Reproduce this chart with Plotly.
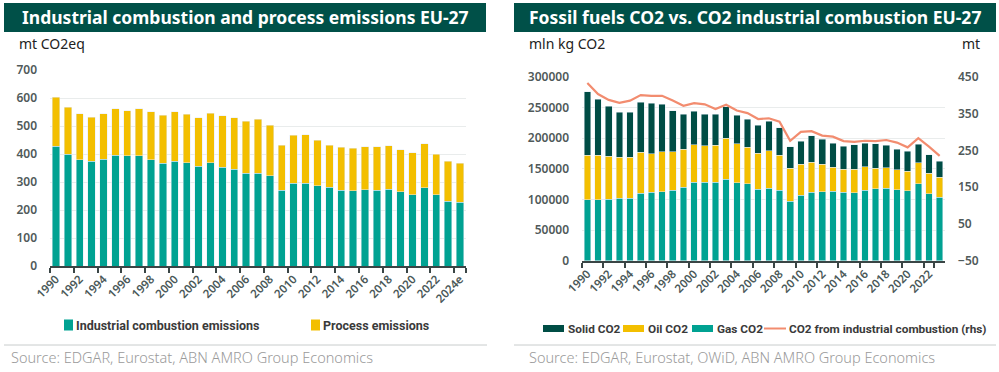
import plotly.graph_objects as go

W, H = 999, 372

# ---------------- data ----------------
years_left = [str(y) for y in range(1990, 2024)] + ["2024e"]
industrial_combustion = [428, 399, 380, 374, 382, 396, 394, 394, 379, 367, 374, 368, 357, 368, 352, 346, 331, 332, 323,
                         271, 295, 296, 287, 281, 271, 269, 273, 270, 275, 266, 254, 280, 254, 232, 227]
process_emissions = [174, 168, 163, 157, 161, 165, 161, 167, 172, 171, 177, 174, 173, 178, 185, 184, 186, 192, 179,
                     161, 172, 173, 163, 151, 154, 151, 153, 156, 154, 150, 151, 156, 145, 143, 140]

years_right = [str(y) for y in range(1990, 2024)]
gas_co2 = [99500, 99500, 100000, 102200, 102200, 110300, 112000, 112500, 115200, 120000, 127700, 127700, 127700,
           133000, 127200, 125500, 116800, 118500, 115200, 97300, 106500, 111400, 112500, 113000, 111400, 110900,
           115200, 117400, 118500, 115800, 114100, 125500, 109200, 103800]
oil_co2 = [72800, 72800, 70000, 66300, 66300, 66900, 62500, 65200, 62500, 62000, 61300, 59800, 60900, 66500, 63600,
           59800, 58800, 60900, 57100, 53700, 51100, 49500, 45100, 39700, 37600, 38600, 38100, 33600, 33100, 32600,
           32100, 34300, 33200, 32100]
solid_co2 = [103300, 91300, 82200, 73300, 73900, 81000, 82000, 77700, 66900, 57000, 54500, 51500, 50000, 51500,
             46700, 45700, 45600, 47800, 44500, 34900, 37000, 42900, 40200, 39200, 38000, 39500, 38600, 39800, 37000,
             33100, 32100, 30400, 30400, 26600]
co2_industrial_combustion = [433, 403, 387, 379, 385, 400, 398, 398, 385, 371, 378, 375, 362, 374, 358, 351, 335, 337,
                             328, 276, 300, 302, 290, 287, 275, 273, 276, 275, 278, 271, 258, 283, 260, 235]

left_ticks = [y for i, y in enumerate(years_left) if i % 2 == 0]
right_ticks = [y for i, y in enumerate(years_right) if i % 2 == 0]

# ---------------- style ----------------
TEAL = "#00A292"
YELLOW = "#F3BF00"
DARK = "#004D45"
SALMON = "#F28C6F"
FONT = "Noto Sans"
LEGFONT = "Roboto"


def px(x):
    return x / W


def py(y):
    return 1 - y / H


fig = go.Figure()

fig.add_bar(x=years_left, y=industrial_combustion, name="Industrial combustion emissions",
            marker_color=TEAL, xaxis="x", yaxis="y", showlegend=False)
fig.add_bar(x=years_left, y=process_emissions, name="Process emissions",
            marker_color=YELLOW, xaxis="x", yaxis="y", showlegend=False)

fig.add_bar(x=years_right, y=gas_co2, name="Gas CO2", marker_color=TEAL,
            xaxis="x2", yaxis="y2", showlegend=False)
fig.add_bar(x=years_right, y=oil_co2, name="Oil CO2", marker_color=YELLOW,
            xaxis="x2", yaxis="y2", showlegend=False)
fig.add_bar(x=years_right, y=solid_co2, name="Solid CO2", marker_color=DARK,
            xaxis="x2", yaxis="y2", showlegend=False)
fig.add_scatter(x=years_right, y=co2_industrial_combustion, name="CO2 from industrial combustion (rhs)",
                mode="lines", line=dict(color=SALMON, width=2.2), xaxis="x2", yaxis="y3", showlegend=False)

tickfont = dict(family=FONT, size=11.5, color="#4A5858", weight=600)
xcommon = dict(type="category", showline=True, linecolor="#3A4545", linewidth=2, ticks="outside",
               tickson="boundaries", ticklen=5, tickcolor="#3A4545", tickwidth=1.5, tickangle=-45,
               tickfont=tickfont, showgrid=False, zeroline=False, automargin=False)
yfont = dict(family=FONT, size=12, color="#505A5A", weight=600)
ycommon = dict(showgrid=True, gridcolor="#E9ECEC", gridwidth=1, zeroline=False, ticks="",
               tickfont=yfont, showline=False, ticklabelstandoff=12, tickformat="d", automargin=False)

fig.update_layout(
    width=W, height=H, margin=dict(l=0, r=0, t=0, b=0, pad=0), autosize=False,
    paper_bgcolor="white", plot_bgcolor="white",
    barmode="stack", bargap=0.38,
    showlegend=False,
    font=dict(family=FONT, color="#333"),
    xaxis=dict(domain=[px(50), px(466)], anchor="y", tickvals=left_ticks, ticktext=left_ticks, **xcommon),
    yaxis=dict(domain=[py(266), py(70)], anchor="x", range=[0, 700], dtick=100, **ycommon),
    xaxis2=dict(domain=[px(582), px(945)], anchor="y2", tickvals=right_ticks, ticktext=right_ticks, **xcommon),
    yaxis2=dict(domain=[py(260.7), py(76.7)], anchor="x2", range=[0, 300000], dtick=50000, **ycommon),
    yaxis3=dict(domain=[py(260.7), py(76.7)], anchor="x2", overlaying="y2", side="right",
                range=[-50, 450], tick0=-50, dtick=100, showgrid=False, zeroline=False, ticks="",
                tickfont=yfont, ticklabelstandoff=12, automargin=False),
)

shapes = []
annotations = []

# title bars
for x0, x1, text in [(4, 486, "Industrial combustion and process emissions EU-27"),
                     (514, 996, "Fossil fuels CO2 vs. CO2 industrial combustion EU-27")]:
    shapes.append(dict(type="rect", xref="paper", yref="paper", x0=px(x0), x1=px(x1), y0=py(32), y1=py(3),
                       fillcolor="#005048", line_width=0, layer="below"))
    annotations.append(dict(text=text, xref="paper", yref="paper", x=px((x0 + x1) / 2), y=py(17.5),
                            xanchor="center", yanchor="middle", showarrow=False,
                            font=dict(family=FONT, size=17.5, color="white", weight=700)))

# units
unitfont = dict(family=FONT, size=14, color="#222")
annotations.append(dict(text="mt CO2eq", xref="paper", yref="paper", x=px(17), y=py(43), xanchor="left",
                        yanchor="middle", showarrow=False, font=unitfont))
annotations.append(dict(text="mln kg CO2", xref="paper", yref="paper", x=px(527), y=py(43), xanchor="left",
                        yanchor="middle", showarrow=False, font=unitfont))
annotations.append(dict(text="mt", xref="paper", yref="paper", x=px(982), y=py(43), xanchor="right",
                        yanchor="middle", showarrow=False, font=unitfont))

# separators + sources
for x0, x1, sx, src in [(4, 487, 9, "Source: EDGAR, Eurostat, ABN AMRO Group Economics"),
                        (514, 996, 527, "Source: EDGAR, Eurostat, OWiD, ABN AMRO Group Economics")]:
    shapes.append(dict(type="line", xref="paper", yref="paper", x0=px(x0), x1=px(x1), y0=py(345), y1=py(345),
                       line=dict(color="#C8CCCC", width=1)))
    annotations.append(dict(text=src, xref="paper", yref="paper", x=px(sx), y=py(357), xanchor="left",
                            yanchor="middle", showarrow=False,
                            font=dict(family=FONT, size=14.5, color="#9A9A9A", weight=300)))

# legends (manual)
legfont = dict(family=LEGFONT, size=12.5, color="#3A3A3A", weight=700)
left_leg = [(64, TEAL, "Industrial combustion emissions"), (311, YELLOW, "Process emissions")]
for x, col, name in left_leg:
    shapes.append(dict(type="rect", xref="paper", yref="paper", x0=px(x), x1=px(x + 9), y0=py(330.5), y1=py(319.5),
                       fillcolor=col, line_width=0))
    annotations.append(dict(text=name, xref="paper", yref="paper", x=px(x + 10), y=py(325), xanchor="left",
                            yanchor="middle", showarrow=False, font=legfont))

right_leg = [(543, DARK, "Solid CO2", "bar"), (623, YELLOW, "Oil CO2", "bar"), (692, TEAL, "Gas CO2", "bar"),
             (764, SALMON, "CO2 from industrial combustion (rhs)", "line")]
legfont2 = dict(family=LEGFONT, size=11.8, color="#3A3A3A", weight=700)
for x, col, name, kind in right_leg:
    if kind == "bar":
        shapes.append(dict(type="rect", xref="paper", yref="paper", x0=px(x), x1=px(x + 21), y0=py(332),
                           y1=py(325), fillcolor=col, line_width=0))
    else:
        shapes.append(dict(type="line", xref="paper", yref="paper", x0=px(x), x1=px(x + 22), y0=py(328.5),
                           y1=py(328.5), line=dict(color=col, width=2)))
    annotations.append(dict(text=name, xref="paper", yref="paper", x=px(x + 23), y=py(328.5), xanchor="left",
                            yanchor="middle", showarrow=False, font=legfont2))

fig.update_layout(shapes=shapes, annotations=annotations)

fig.write_html("out.html", config={"displayModeBar": False},
               post_script="document.body.style.margin='0';document.body.style.overflow='hidden';")
